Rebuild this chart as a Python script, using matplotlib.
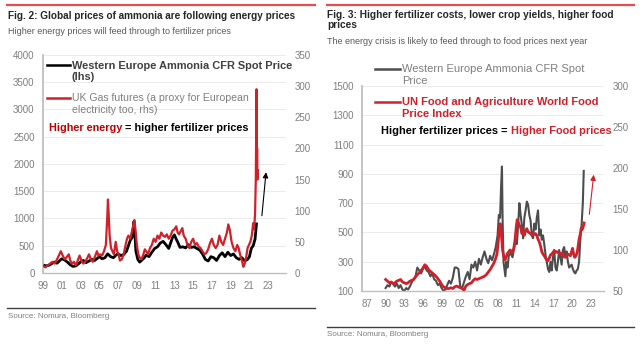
import matplotlib
matplotlib.use('Agg')
import matplotlib.pyplot as plt
from matplotlib.lines import Line2D

plt.rcParams['font.family'] = ['Liberation Sans', 'DejaVu Sans']

# ---- Fig. 2 data: ammonia (lhs, $/t) and UK gas futures (rhs, p/therm)
amm2_x = [1999.0, 1999.3, 1999.6, 1999.9, 2000.2, 2000.5, 2000.8, 2001.0, 2001.3, 2001.6,
          2001.9, 2002.2, 2002.5, 2002.8, 2003.0, 2003.3, 2003.6, 2003.9, 2004.2, 2004.5,
          2004.8, 2005.0, 2005.3, 2005.6, 2005.9, 2006.2, 2006.5, 2006.8, 2007.0, 2007.3,
          2007.6, 2007.9, 2008.1, 2008.3, 2008.5, 2008.7, 2008.8, 2008.9, 2009.1, 2009.3,
          2009.5, 2009.8, 2010.0, 2010.3, 2010.6, 2010.9, 2011.2, 2011.5, 2011.8, 2012.1,
          2012.4, 2012.6, 2012.8, 2013.0, 2013.2, 2013.4, 2013.6, 2013.9, 2014.2, 2014.5,
          2014.8, 2015.1, 2015.4, 2015.7, 2016.0, 2016.3, 2016.6, 2016.9, 2017.2, 2017.5,
          2017.8, 2018.1, 2018.4, 2018.7, 2019.0, 2019.3, 2019.6, 2019.9, 2020.2, 2020.5,
          2020.8, 2021.0, 2021.2, 2021.4, 2021.6, 2021.75]
amm2_y = [150, 130, 140, 170, 200, 180, 230, 260, 240, 200,
          150, 120, 130, 170, 200, 230, 190, 220, 250, 230,
          270, 300, 260, 280, 350, 300, 280, 330, 350, 320,
          340, 400, 500, 600, 650, 950, 700, 400, 250, 200,
          230, 280, 330, 300, 380, 450, 480, 550, 580, 520,
          450, 550, 650, 700, 620, 550, 470, 480, 460, 520,
          470, 480, 450, 420, 350, 250, 220, 300, 280, 230,
          320, 370, 300, 380, 320, 350, 280, 250, 280, 220,
          250, 300, 450, 500, 620, 900]

gas_x = [1999.0, 1999.25, 1999.5, 1999.75, 2000.0, 2000.25, 2000.5, 2000.75, 2000.9, 2001.1,
         2001.3, 2001.5, 2001.75, 2001.9, 2002.1, 2002.3, 2002.5, 2002.75, 2002.9, 2003.1,
         2003.3, 2003.5, 2003.75, 2003.9, 2004.1, 2004.3, 2004.5, 2004.75, 2004.9, 2005.1,
         2005.3, 2005.5, 2005.7, 2005.85, 2005.92, 2006.0, 2006.1, 2006.25, 2006.4, 2006.55,
         2006.75, 2006.9, 2007.05, 2007.2, 2007.4, 2007.6, 2007.8, 2007.95, 2008.1, 2008.3,
         2008.45, 2008.6, 2008.75, 2008.85, 2009.0, 2009.15, 2009.3, 2009.5, 2009.7, 2009.85,
         2010.0, 2010.2, 2010.4, 2010.6, 2010.8, 2011.0, 2011.2, 2011.4, 2011.6, 2011.8,
         2012.0, 2012.2, 2012.4, 2012.6, 2012.8, 2013.0, 2013.2, 2013.35, 2013.5, 2013.7,
         2013.85, 2014.0, 2014.2, 2014.4, 2014.6, 2014.8, 2015.0, 2015.2, 2015.4, 2015.6,
         2015.8, 2016.0, 2016.2, 2016.4, 2016.6, 2016.8, 2017.0, 2017.2, 2017.4, 2017.6,
         2017.8, 2018.0, 2018.2, 2018.4, 2018.6, 2018.75, 2018.9, 2019.1, 2019.3, 2019.5,
         2019.7, 2019.85, 2020.0, 2020.2, 2020.35, 2020.5, 2020.65, 2020.8, 2020.95, 2021.1,
         2021.25, 2021.4, 2021.5, 2021.6, 2021.68, 2021.72, 2021.76, 2021.79, 2021.82, 2021.85,
         2021.88]
gas_y = [12, 9, 12, 15, 18, 15, 22, 30, 35, 28,
         22, 25, 30, 20, 15, 18, 12, 22, 28, 20,
         15, 18, 25, 30, 22, 18, 25, 35, 28, 30,
         28, 35, 45, 90, 118, 95, 60, 40, 35, 30,
         50, 35, 30, 20, 22, 30, 45, 55, 60, 55,
         65, 75, 85, 70, 45, 30, 25, 22, 30, 38,
         35, 30, 40, 45, 55, 50, 60, 55, 65, 60,
         58, 62, 55, 60, 68, 70, 75, 65, 62, 68,
         72, 60, 55, 45, 40, 50, 55, 45, 48, 42,
         40, 35, 30, 32, 38, 48, 55, 45, 40, 45,
         60, 50, 45, 55, 65, 78, 70, 50, 40, 35,
         45, 40, 30, 20, 10, 15, 25, 40, 45, 50,
         60, 80, 70, 95, 150, 230, 295, 160, 200, 150,
         165]

# ---- Fig. 3 data: ammonia (lhs) and FAO food price index (rhs)
amm3_x = [1990.0, 1990.3, 1990.6, 1990.9, 1991.2, 1991.5, 1991.8, 1992.1, 1992.4, 1992.7,
          1993.0, 1993.3, 1993.6, 1993.9, 1994.2, 1994.5, 1994.8, 1995.1, 1995.4, 1995.7,
          1996.0, 1996.3, 1996.6, 1996.9, 1997.2, 1997.5, 1997.8, 1998.1, 1998.4, 1998.7,
          1999.0, 1999.3, 1999.6, 1999.9, 2000.2, 2000.5, 2000.8, 2001.1, 2001.4, 2001.7,
          2002.0, 2002.3, 2002.6, 2002.9, 2003.2, 2003.5, 2003.8, 2004.1, 2004.4, 2004.7,
          2005.0, 2005.3, 2005.6, 2005.9, 2006.2, 2006.5, 2006.8, 2007.1, 2007.4, 2007.7,
          2008.0, 2008.2, 2008.4, 2008.55, 2008.7, 2008.8, 2008.95, 2009.1, 2009.25, 2009.4,
          2009.6, 2009.8, 2010.1, 2010.4, 2010.7, 2010.9, 2011.1, 2011.3, 2011.5, 2011.7,
          2011.9, 2012.1, 2012.3, 2012.5, 2012.7, 2012.9, 2013.1, 2013.3, 2013.5, 2013.7,
          2013.9, 2014.1, 2014.3, 2014.5, 2014.7, 2014.9, 2015.1, 2015.3, 2015.5, 2015.7,
          2015.9, 2016.1, 2016.3, 2016.5, 2016.7, 2016.9, 2017.1, 2017.3, 2017.5, 2017.7,
          2017.9, 2018.1, 2018.3, 2018.5, 2018.7, 2018.9, 2019.1, 2019.3, 2019.5, 2019.7,
          2019.9, 2020.1, 2020.3, 2020.5, 2020.7, 2020.9, 2021.1, 2021.3, 2021.5, 2021.7,
          2021.85]
amm3_y = [120, 140, 130, 160, 150, 130, 150, 120, 140, 110,
          100, 120, 110, 130, 160, 180, 200, 260, 240, 220,
          250, 270, 240, 230, 200, 220, 180, 170, 140, 150,
          120, 100, 110, 140, 170, 150, 190, 260, 260, 250,
          130, 120, 160, 200, 230, 180, 280, 260, 300, 240,
          320, 280, 330, 370, 320, 290, 340, 310, 350, 400,
          480, 620, 600, 800, 950, 600, 300, 250, 200, 300,
          260, 340, 360, 330, 400, 450, 420, 550, 700, 620,
          550, 460, 600, 650, 710, 690, 620, 580, 480, 460,
          560, 520, 600, 650, 480, 520, 450, 480, 420, 350,
          300, 250, 230, 300, 240, 330, 380, 260, 240, 300,
          380, 330, 280, 380, 400, 330, 370, 300, 260, 270,
          280, 250, 230, 220, 240, 250, 300, 450, 550, 700,
          920]

fao_x = [1990.0, 1990.3, 1990.6, 1990.9, 1991.2, 1991.5, 1991.8, 1992.1, 1992.4, 1992.7,
         1993.0, 1993.3, 1993.6, 1993.9, 1994.2, 1994.5, 1994.8, 1995.1, 1995.4, 1995.7,
         1996.0, 1996.3, 1996.6, 1996.9, 1997.2, 1997.5, 1997.8, 1998.1, 1998.4, 1998.7,
         1999.0, 1999.3, 1999.6, 1999.9, 2000.2, 2000.5, 2000.8, 2001.1, 2001.4, 2001.7,
         2002.0, 2002.3, 2002.6, 2002.9, 2003.2, 2003.5, 2003.8, 2004.1, 2004.4, 2004.7,
         2005.0, 2005.3, 2005.6, 2005.9, 2006.2, 2006.5, 2006.8, 2007.1, 2007.4, 2007.7,
         2007.9, 2008.1, 2008.3, 2008.45, 2008.6, 2008.8, 2009.0, 2009.2, 2009.4, 2009.6,
         2009.8, 2010.0, 2010.3, 2010.6, 2010.8, 2011.0, 2011.15, 2011.3, 2011.5, 2011.7,
         2011.9, 2012.1, 2012.3, 2012.5, 2012.7, 2012.9, 2013.1, 2013.3, 2013.5, 2013.7,
         2013.9, 2014.1, 2014.3, 2014.5, 2014.7, 2014.9, 2015.1, 2015.3, 2015.5, 2015.7,
         2015.9, 2016.1, 2016.3, 2016.5, 2016.7, 2016.9, 2017.1, 2017.3, 2017.5, 2017.7,
         2017.9, 2018.1, 2018.3, 2018.5, 2018.7, 2018.9, 2019.1, 2019.3, 2019.5, 2019.7,
         2019.9, 2020.05, 2020.2, 2020.4, 2020.6, 2020.8, 2020.95, 2021.1, 2021.3, 2021.45,
         2021.6, 2021.75, 2021.9]
fao_y = [64, 62, 60, 61, 59, 60, 62, 63, 64, 61,
         60, 59, 60, 62, 63, 64, 67, 70, 72, 75,
         78, 82, 80, 76, 74, 72, 70, 68, 65, 62,
         58, 55, 54, 53, 53, 54, 53, 55, 56, 55,
         54, 53, 51, 56, 58, 59, 60, 63, 65, 64,
         65, 66, 67, 68, 70, 73, 76, 80, 84, 90,
         95, 110, 128, 132, 120, 100, 92, 88, 92, 96,
         98, 100, 97, 102, 112, 128, 137, 134, 130, 128,
         120, 122, 118, 124, 126, 122, 121, 120, 118, 120,
         119, 120, 118, 113, 110, 105, 98, 95, 93, 90,
         88, 87, 90, 94, 95, 97, 99, 97, 98, 97,
         96, 95, 96, 94, 92, 91, 93, 95, 94, 93,
         98, 102, 96, 91, 93, 97, 105, 113, 120, 127,
         125, 128, 133]

ticks2 = list(range(1999, 2024, 2))
ticks3 = list(range(1987, 2024, 3))

RED = '#d0202a'
TXT = '#595959'
TCK = '#7f7f7f'

fig = plt.figure(figsize=(6.4, 3.47), dpi=100)


def style(ax, axr):
    for a in (ax, axr):
        for s in ('top', 'right', 'left'):
            a.spines[s].set_visible(False)
        a.tick_params(length=0, labelsize=7, colors=TCK, pad=6)
    ax.spines['left'].set_visible(True)
    ax.spines['left'].set_color('#bfbfbf')
    ax.spines['left'].set_linewidth(1.3)
    ax.spines['bottom'].set_color('#bfbfbf')
    ax.spines['bottom'].set_linewidth(1.0)
    axr.spines['bottom'].set_visible(False)
    ax.grid(axis='y', color='#ebebeb', linewidth=0.7)
    ax.set_axisbelow(True)


# ---------------- left panel
ax1 = fig.add_axes([0.0672, 0.2133, 0.3797, 0.6282])
ax1r = ax1.twinx()
ax1.plot(amm2_x, amm2_y, color='black', lw=2.0)
ax1r.plot(gas_x, gas_y, color=RED, lw=1.6)
ax1.set_xlim(1999, 2024.9)
ax1.set_ylim(0, 4000)
ax1r.set_ylim(0, 350)
ax1.set_yticks(range(0, 4001, 500))
ax1r.set_yticks(range(0, 351, 50))
ax1.set_xticks(ticks2)
ax1.set_xticklabels(['%02d' % (t % 100) for t in ticks2])
style(ax1, ax1r)
ax1.annotate('', xy=(2022.8, 1900), xytext=(2022.3, 1000),
             arrowprops=dict(arrowstyle='-|>', color='black', lw=0.8,
                             mutation_scale=8))

# legend drawn by hand so the sample sits on the first text line
for yy, col in ((0.954, 'black'), (0.803, RED)):
    ax1.add_line(Line2D([0.016, 0.111], [yy, yy], color=col, lw=1.8,
                        transform=ax1.transAxes, clip_on=False))
ax1.text(0.119, 0.954 - 0.028, 'Western Europe Ammonia CFR Spot Price\n(lhs)',
         transform=ax1.transAxes, fontsize=7.9, fontweight='bold',
         color='#404040', va='center', linespacing=1.15)
ax1.text(0.119, 0.803 - 0.028, 'UK Gas futures (a proxy for European\nelectricity too, rhs)',
         transform=ax1.transAxes, fontsize=7.6, color=TCK, va='center',
         linespacing=1.15)
t1 = ax1.text(0.025, 0.665, 'Higher energy', transform=ax1.transAxes,
              fontsize=7.8, fontweight='bold', color='#c00000', va='center')
ax1.annotate(' = higher fertilizer prices', xy=(1, 0.5), xycoords=t1,
             fontsize=7.8, fontweight='bold', color='black', va='center')

# ---------------- right panel
ax2 = fig.add_axes([0.5656, 0.1614, 0.3781, 0.5908])
ax2r = ax2.twinx()
ax2.plot(amm3_x, amm3_y, color='#4d4d4d', lw=1.5)
ax2r.plot(fao_x, fao_y, color=RED, lw=2.0)
ax2.set_xlim(1986.2, 2025.1)
ax2.set_ylim(100, 1500)
ax2r.set_ylim(50, 300)
ax2.set_yticks(range(100, 1501, 200))
ax2r.set_yticks(range(50, 301, 50))
ax2.set_xticks(ticks3)
ax2.set_xticklabels(['%02d' % (t % 100) for t in ticks3])
style(ax2, ax2r)
ax2.annotate('', xy=(2023.5, 913), xytext=(2022.7, 605),
             arrowprops=dict(arrowstyle='-|>', color=RED, lw=0.8,
                             mutation_scale=8))

for yy, col, lw in ((1.083, '#4d4d4d', 1.8), (0.922, RED, 1.8)):
    ax2.add_line(Line2D([0.054, 0.157], [yy, yy], color=col, lw=lw,
                        transform=ax2.transAxes, clip_on=False))
ax2.text(0.165, 1.083 - 0.030, 'Western Europe Ammonia CFR Spot\nPrice',
         transform=ax2.transAxes, fontsize=8.0, color=TCK, va='center',
         linespacing=1.2)
ax2.text(0.165, 0.922 - 0.030, 'UN Food and Agriculture World Food\nPrice Index',
         transform=ax2.transAxes, fontsize=8.0, fontweight='bold', color=RED,
         va='center', linespacing=1.2)
t2 = ax2.text(0.079, 0.780, 'Higher fertilizer prices = ', transform=ax2.transAxes,
              fontsize=7.9, fontweight='bold', color='black', va='center')
ax2.annotate('Higher Food prices', xy=(1, 0.5), xycoords=t2,
             fontsize=7.9, fontweight='bold', color=RED, va='center')

# ---------------- titles, rules and source lines
for x0, x1 in ((7 / 640, 315 / 640), (327 / 640, 634 / 640)):
    fig.add_artist(Line2D([x0, x1], [1 - 5 / 347, 1 - 5 / 347], color='#e05050', lw=1.6))

fig.text(8 / 640, 1 - 16 / 347, 'Fig. 2: Global prices of ammonia are following energy prices',
         fontsize=7.2, fontweight='bold', color='#262626', va='center')
fig.text(8 / 640, 1 - 31 / 347, 'Higher energy prices will feed through to fertilizer prices',
         fontsize=6.5, color=TXT, va='center')
fig.text(327 / 640, 1 - 20 / 347, 'Fig. 3: Higher fertilizer costs, lower crop yields, higher food\nprices',
         fontsize=7.3, fontweight='bold', color='#262626', va='center', linespacing=1.0)
fig.text(327 / 640, 1 - 42 / 347, 'The energy crisis is likely to feed through to food prices next year',
         fontsize=6.5, color=TXT, va='center')

fig.add_artist(Line2D([7 / 640, 315 / 640], [1 - 308 / 347] * 2, color='#404040', lw=1.0))
fig.add_artist(Line2D([327 / 640, 634 / 640], [1 - 327 / 347] * 2, color='#404040', lw=1.0))
fig.text(8 / 640, 1 - 316 / 347, 'Source: Nomura, Bloomberg', fontsize=5.8, color=TCK, va='center')
fig.text(327 / 640, 1 - 335 / 347, 'Source: Nomura, Bloomberg', fontsize=5.8, color=TCK, va='center')

fig.savefig('out.png', dpi=100)
